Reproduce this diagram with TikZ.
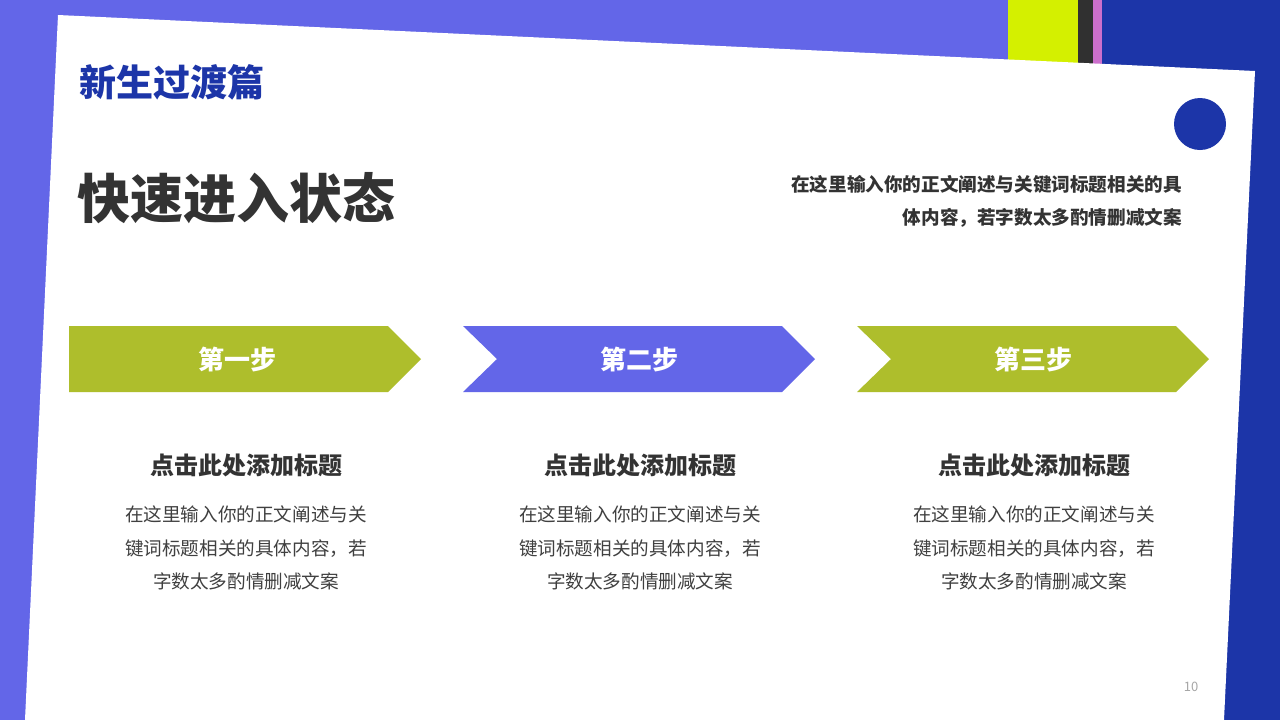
\documentclass[tikz,border=0pt]{standalone}
\usepackage{fontspec}
\setmainfont{Noto Sans CJK SC}
\definecolor{bgpurple}{HTML}{6366E8}
\definecolor{deepblue}{HTML}{1C35A8}
\definecolor{limebar}{HTML}{D4F000}
\definecolor{darkbar}{HTML}{303030}
\definecolor{pinkbar}{HTML}{CC6FCC}
\definecolor{stepgreen}{HTML}{AEBE2C}
\definecolor{textdark}{HTML}{333333}
\definecolor{textgray}{HTML}{404040}
\tikzset{
  steplabel/.style={text=white, font=\bfseries\fontsize{13}{15}\selectfont},
  stephead/.style={text=textdark, font=\bfseries\fontsize{12}{14}\selectfont},
  stepbody/.style={text=textgray, align=center, font=\fontsize{9.3}{16.75}\selectfont},
}
\begin{document}
\begin{tikzpicture}[x=0.5pt, y=-0.5pt]
\useasboundingbox (0,0) rectangle (1280,720);
% background and bars
\fill[bgpurple] (0,0) rectangle (1280,720);
\fill[deepblue] (1102,0) rectangle (1280,720);
\fill[limebar] (1008,0) rectangle (1078,70);
\fill[darkbar] (1078,0) rectangle (1093,70);
\fill[pinkbar] (1093,0) rectangle (1102,70);
% tilted white sheet
\fill[white] (58,15) -- (1255,71) -- (1224,720) -- (25,720) -- cycle;
\fill[deepblue] (1200,124) circle (13pt);

\node[anchor=west, text=deepblue, font=\bfseries\fontsize{18.5}{20}\selectfont] (part) at (72,82) {新生过渡篇};
\node[anchor=west, text=textdark, font=\bfseries\fontsize{26.5}{30}\selectfont] (title) at (70,198) {快速进入状态};
\node[anchor=east, align=right, text=textdark, font=\bfseries\fontsize{9.3}{16.5}\selectfont] (intro) at (1189,201)
  {在这里输入你的正文阐述与关键词标题相关的具\\体内容，若字数太多酌情删减文案};

% three steps
\foreach \i/\x/\col/\lab/\notch in {1/69/stepgreen/第一步/0, 2/463/bgpurple/第二步/1, 3/857/stepgreen/第三步/1} {
  \pgfmathsetmacro{\lx}{\x+168+8*\notch}
  \fill[\col] (\x,326) -- ({\x+319},326) -- ({\x+352},359) -- ({\x+319},392) -- (\x,392) -- ({\x+34*\notch},359) -- cycle;
  \node[steplabel] (step\i) at (\lx,359) {\lab};
  \node[stephead] (head\i) at ({\x+177},465) {点击此处添加标题};
  \node[stepbody] (body\i) at ({\x+177},548) {在这里输入你的正文阐述与关\\键词标题相关的具体内容，若\\字数太多酌情删减文案};
}

\node[text=gray!70, font=\fontsize{6.5}{8}\selectfont] (page) at (1191,687) {10};
\end{tikzpicture}
\end{document}
